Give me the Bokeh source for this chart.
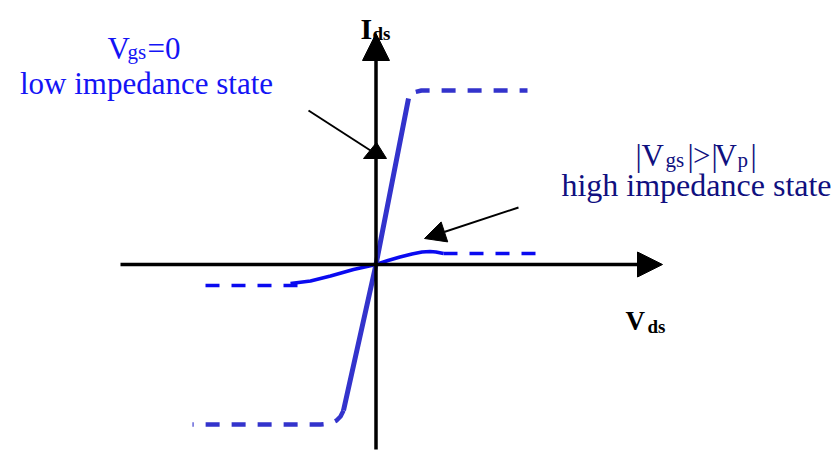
from bokeh.plotting import figure
from bokeh.models import Range1d, Arrow, NormalHead
from bokeh.core.properties import value
from bokeh.embed import file_html
from bokeh.resources import INLINE

# ---- data (arbitrary units, origin at the axes crossing) ----
# Vgs = 0 : low impedance state (steep line)
vds_on = [-32.5, 0, 32.5]
ids_on = [-146, 0, 166]
vds_on_sat_hi = [32.5, 35.5, 39.5, 45.5, 151.5]
ids_on_sat_hi = [166, 170, 172.5, 174, 174]
vds_on_sat_lo = [-32.5, -35.5, -39.5, -45.5, -55.5, -183.5]
ids_on_sat_lo = [-146, -152, -156, -159, -160, -160]

# |Vgs| > |Vp| : high impedance state (flat curve)
vds_off = [-85.5, -65.5, -45.5, -22.5, 0, 12, 24, 36, 46, 54, 60, 67.5]
ids_off = [-19, -16.5, -11.5, -5, 0, 4, 7.5, 10.5, 12.5, 13, 12.5, 11]
vds_off_sat_lo = [-170.5, -75.5]
ids_off_sat_lo = [-21, -21]
vds_off_sat_hi = [67.5, 161.5]
ids_off_sat_hi = [11, 11]

SERIF = "Liberation Serif"
BLUE = "#1414f5"
NAVY = "#10107f"
STEEP = "#3333cc"
FLAT = "#0a0af0"

p = figure(width=838, height=450, x_range=Range1d(-375.5, 462.5), y_range=Range1d(-186, 264),
           x_axis_type=None, y_axis_type=None, toolbar_location=None, output_backend="svg",
           min_border=0, outline_line_color=None, background_fill_color="white",
           border_fill_color="white")
p.xgrid.visible = False
p.ygrid.visible = False

# axes with arrow heads
p.add_layout(Arrow(end=NormalHead(size=25, fill_color="black", line_color="black", line_width=1),
                   x_start=-255.5, y_start=0, x_end=286.5, y_end=0,
                   line_color="black", line_width=3.5))
p.add_layout(Arrow(end=NormalHead(size=27, fill_color="black", line_color="black", line_width=1),
                   x_start=0, y_start=-185, x_end=0, y_end=231,
                   line_color="black", line_width=3.5))

# pointer arrows
p.line([-67.5, -5.5], [154, 114], line_color="black", line_width=2)
p.patch([0.5, -12.5, 10.5], [122, 106, 106], fill_color="black", line_color="black")
p.add_layout(Arrow(end=NormalHead(size=21, fill_color="black", line_color="black", line_width=1),
                   x_start=142.5, y_start=57, x_end=48.5, y_end=26,
                   line_color="black", line_width=2))

# curves
p.line(vds_off, ids_off, line_color=FLAT, line_width=3.5, line_join="round")
p.line(vds_off_sat_lo, ids_off_sat_lo, line_color=FLAT, line_width=3.5, line_dash="14 12")
p.line(vds_off_sat_hi, ids_off_sat_hi, line_color=FLAT, line_width=3.5, line_dash="14 12")

p.line(vds_on, ids_on, line_color=STEEP, line_width=5)
p.line(vds_on_sat_hi, ids_on_sat_hi, line_color=STEEP, line_width=4.5, line_dash="14 12",
       line_dash_offset=16, line_join="round")
p.line(vds_on_sat_lo, ids_on_sat_lo, line_color=STEEP, line_width=4.5, line_dash="14 12",
       line_join="round")


def txt(x, y, s, size, color, bold=False, align="left"):
    p.text(x=[x], y=[y], text=[s], text_font=value(SERIF), text_font_size=f"{size}px",
           text_color=color, text_align=align, text_baseline="alphabetic",
           text_font_style="bold" if bold else "normal")


# axis labels
txt(-15.5, 236, "I", 30, "black", bold=True)
txt(-3.5, 231, "ds", 19, "black", bold=True)
txt(249.5, -56, "V", 27, "black", bold=True)
txt(271.5, -62, "ds", 19, "black", bold=True)

# low impedance annotation
txt(-268.5, 216, "V", 31, BLUE)
txt(-248.5, 213, "gs", 21, BLUE)
txt(-228.5, 216, "=0", 31, BLUE)
txt(-229.5, 181, "low impedance state", 31, BLUE, align="center")

# high impedance annotation
txt(259.5, 109, "|", 31, NAVY)
txt(265.5, 109, "V", 31, NAVY)
txt(289.5, 105, "gs", 21, NAVY)
txt(311.5, 109, "|", 31, NAVY)
txt(317, 109, ">", 31, NAVY)
txt(335.5, 109, "|", 31, NAVY)
txt(338.5, 109, "V", 31, NAVY)
txt(361.5, 105, "p", 21, NAVY)
txt(374.5, 109, "|", 31, NAVY)
txt(320.5, 80, "high impedance state", 32, NAVY, align="center")

open("out.html", "w").write(file_html(p, INLINE))
